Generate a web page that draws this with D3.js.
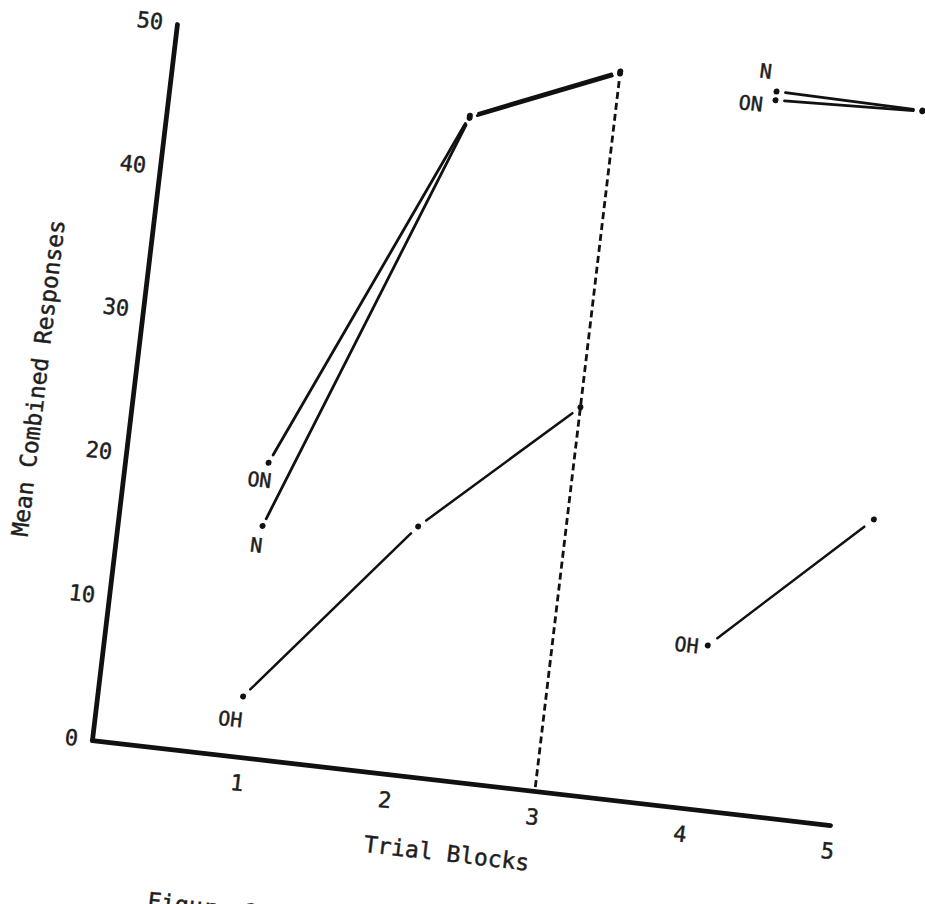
<!DOCTYPE html>
<html>
<head>
<meta charset="utf-8">
<script src="https://cdn.jsdelivr.net/npm/d3@7"></script>
<style>
  html, body { margin: 0; padding: 0; background: #fff; overflow: hidden; }
  svg { display: block; }
  text { font-family: "DejaVu Sans Mono", "Liberation Mono", monospace; fill: #1e1e1e; stroke: #1e1e1e; stroke-width: 0.45px; }
</style>
</head>
<body>
<svg id="chart" width="925" height="904"></svg>
<script>
// ---------------- data ----------------
const blockTicks = [1, 2, 3, 4, 5];
const responseTicks = [0, 10, 20, 30, 40, 50];
const xTitle = "Trial Blocks";
const yTitle = "Mean Combined Responses";
const caption = "Figure 1.";

// phase 1 (blocks 1-3): plotted block positions and mean responses
const onBlocksA = [0.96, 2.03, 3.0];
const onValuesA = [20.5, 46.0, 50.25];
const nBlocksA  = [0.97, 2.03, 3.0];
const nValuesA  = [16.1, 45.85, 50.1];
const ohBlocksA = [0.975, 2.01, 3.0];
const ohValuesA = [4.2, 17.3, 26.8];

// phase 2 (blocks 4-5)
const onBlocksB = [4.06, 5.05];
const onValuesB = [49.5, 49.9];
const nBlocksB  = [4.06, 5.05];
const nValuesB  = [50.1, 49.95];
const ohBlocksB = [4.04, 5.05];
const ohValuesB = [11.4, 21.4];

// dashed divider at block 3
const dividerBlock = 3.0;
const dividerRange = [0, 50.2];

// ---------------- layout ----------------
const svg = d3.select("#chart");
// the scanned page is slightly rotated: draw in a rotated frame
const frame = svg.append("g")
  .attr("transform", "matrix(0.9934,0.1144,-0.1179,0.9931,92,740)");

const x = d3.scaleLinear().domain([0, 5]).range([0, 743]);
const y = d3.scaleLinear().domain([0, 50]).range([0, -721]);

// axes
const xAxis = frame.append("g")
  .call(d3.axisBottom(x).tickValues(blockTicks).tickSize(0).tickSizeOuter(0).tickPadding(18).tickFormat(d3.format("d")));
const yAxis = frame.append("g")
  .call(d3.axisLeft(y).tickValues(responseTicks).tickSize(0).tickSizeOuter(0).tickPadding(14).tickFormat(d3.format("d")));
[xAxis, yAxis].forEach(a => {
  a.select(".domain").attr("stroke", "#111").attr("stroke-width", 4.8).attr("stroke-linecap", "round");
  a.selectAll("text").style("font-size", "22px").attr("fill", "#1e1e1e")
    .style("font-family", "'DejaVu Sans Mono', monospace");
});

// titles
frame.append("text")
  .attr("x", (x.range()[0] + x.range()[1]) / 2 - 6)
  .attr("y", 80)
  .attr("text-anchor", "middle")
  .style("font-size", "23px")
  .text(xTitle);

frame.append("text")
  .attr("transform", `translate(-88, ${y(24.5)}) rotate(-90)`)
  .attr("text-anchor", "middle")
  .style("font-size", "23px")
  .text(yTitle);

frame.append("text")
  .attr("x", 74)
  .attr("y", 161)
  .attr("text-anchor", "start")
  .style("font-size", "23px")
  .text(caption);

// helpers
const pts = (xs, ys) => xs.map((v, i) => [x(v), y(ys[i])]);
function trimmed(p, q, g1, g2) {
  const dx = q[0] - p[0], dy = q[1] - p[1], L = Math.hypot(dx, dy);
  return [[p[0] + dx / L * g1, p[1] + dy / L * g1], [q[0] - dx / L * g2, q[1] - dy / L * g2]];
}
const line = d3.line();

function drawSeries(points, gap, width) {
  for (let i = 0; i < points.length - 1; i++) {
    frame.append("path")
      .attr("d", line(trimmed(points[i], points[i + 1], gap, gap)))
      .attr("fill", "none")
      .attr("stroke", "#111")
      .attr("stroke-width", width)
      .attr("stroke-linecap", "round");
  }
  frame.selectAll(null).data(points).enter().append("circle")
    .attr("cx", d => d[0]).attr("cy", d => d[1]).attr("r", 3).attr("fill", "#111");
}

// dashed divider
const divTop = [x(dividerBlock), y(dividerRange[1])];
const divBot = [x(dividerBlock), y(dividerRange[0])];
frame.append("path")
  .attr("d", line(trimmed(divTop, divBot, 9, 0)))
  .attr("fill", "none")
  .attr("stroke", "#111")
  .attr("stroke-width", 2.8)
  .attr("stroke-dasharray", "7,4");

const onA = pts(onBlocksA, onValuesA), nA = pts(nBlocksA, nValuesA), ohA = pts(ohBlocksA, ohValuesA);
const onB = pts(onBlocksB, onValuesB), nB = pts(nBlocksB, nValuesB), ohB = pts(ohBlocksB, ohValuesB);

drawSeries(onA, 9, 2.8);
drawSeries(nA, 8, 2.8);
drawSeries(ohA, 10, 2.5);
drawSeries(onB, 9, 2.8);
drawSeries(nB, 9, 2.8);
drawSeries(ohB, 12, 2.5);

// point labels
const labelSpecs = [
  { text: "ON", at: onA[0], dx: 5, dy: 25 },
  { text: "N",  at: nA[0],  dx: 2, dy: 27 },
  { text: "OH", at: ohA[0], dx: 2, dy: 31 },
  { text: "OH", at: ohB[0], dx: -9, dy: 9 },
  { text: "ON", at: onB[0], dx: -12, dy: 13 },
  { text: "N",  at: nB[0],  dx: -7, dy: -12 }
];
frame.selectAll(null).data(labelSpecs).enter().append("text")
  .attr("x", d => d.at[0] + d.dx)
  .attr("y", d => d.at[1] + d.dy)
  .attr("text-anchor", "end")
  .style("font-size", "20px")
  .text(d => d.text);
</script>
</body>
</html>
